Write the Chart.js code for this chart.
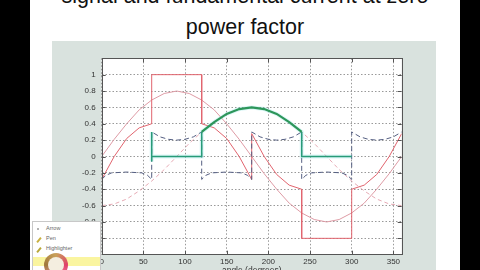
<!DOCTYPE html>
<html>
<head>
<meta charset="utf-8">
<script src="https://cdn.jsdelivr.net/npm/chart.js@4.4.1/dist/chart.umd.min.js"></script>
<style>
  html, body { margin: 0; padding: 0; width: 480px; height: 270px; overflow: hidden; background: #000; }
  #slide { position: absolute; left: 30px; top: 0; width: 430px; height: 270px; background: #fff; overflow: hidden; }
  #title { position: absolute; left: 0; top: -19px; width: 430px; text-align: center;
           font: 21.5px/31px "Liberation Sans", Arial, sans-serif; color: #111; }
  #panel { position: absolute; left: 22px; top: 41px; width: 384px; height: 229px; background: #d9e2de; }
  #wrap { position: absolute; left: 22px; top: 41px; width: 384px; height: 240px; }
  #menu { position: absolute; z-index: 5; left: 32px; top: 221px; width: 67px; height: 52px; background: #fff;
          border: 1px solid #c8c8c8; font: 5.5px "Liberation Sans", Arial, sans-serif; color: #666; overflow: hidden; }
  #menu .item { position: absolute; left: 13px; }
  #menu .ico { position: absolute; left: 3px; width: 6px; height: 2px; transform: rotate(-50deg); }
  #menu .hl { position: absolute; left: 0; top: 35px; width: 67px; height: 9px; background: #faf5a0; }
  #menu .ring { position: absolute; left: 11px; top: 31px; width: 24px; height: 24px; border-radius: 50%;
                background: conic-gradient(#c9a15a, #e0406a, #f29ab0, #a0783c, #c9a15a); }
  #menu .ring::after { content: ""; position: absolute; left: 4px; top: 4px; width: 16px; height: 16px;
                border-radius: 50%; background: #f4eee0; }
</style>
</head>
<body>
<div id="slide">
  <div id="title">signal and fundamental current at zero<br>power factor</div>
  <div id="panel"></div>
  <div id="wrap"><canvas id="grafica" width="384" height="240"></canvas></div>
</div>
<div id="menu">
  <div class="ico" style="top:6px;left:4px;width:2px;height:2px;border-radius:1px;transform:none;background:#999"></div>
  <div class="item" style="top:3px">Arrow</div>
  <div class="ico" style="top:17px;background:#c8b040"></div>
  <div class="item" style="top:13px">Pen</div>
  <div class="ico" style="top:27px;background:#b8a838"></div>
  <div class="item" style="top:23px">Highlighter</div>
  <div class="hl"></div>
  <div class="ring"></div>
</div>

<script>
// angulo en grados
const angulos = [0, 15, 30, 45, 60, 75, 90, 105, 120, 135, 150, 165, 180,
                 195, 210, 225, 240, 255, 270, 285, 300, 315, 330, 345, 360];

// onda de tension (roja, con saltos)
const rojaAngulo = [0, 15, 30, 45, 60, 60, 120, 120, 135, 150, 165, 180,
                    180, 195, 210, 225, 240, 240, 300, 300, 315, 330, 345, 360];
const rojaValor = [-0.28, 0.0, 0.22, 0.35, 0.4, 1, 1, 0.4, 0.35, 0.22, 0.0, -0.28,
                   0.28, 0.0, -0.22, -0.35, -0.4, -1, -1, -0.4, -0.35, -0.22, 0.0, 0.28];

// seno (rosa fino)
const senoValor = [0, 0.21, 0.4, 0.57, 0.69, 0.77, 0.8, 0.77, 0.69, 0.57, 0.4, 0.21, 0,
                   -0.21, -0.4, -0.57, -0.69, -0.77, -0.8, -0.77, -0.69, -0.57, -0.4, -0.21, 0];

// corriente fundamental (rosa punteado)
const fundValor = [-0.6, -0.58, -0.52, -0.42, -0.3, -0.16, 0, 0.16, 0.3, 0.42, 0.52, 0.58, 0.6,
                   0.58, 0.52, 0.42, 0.3, 0.16, 0, -0.16, -0.3, -0.42, -0.52, -0.58, -0.6];

// rizado (azul oscuro, discontinuo)
const rizoAngulo = [0, 5, 12, 30, 48, 55, 60, 60, 70, 80, 90, 100, 110, 120,
                    120, 125, 132, 150, 168, 175, 180, 180, 190, 200, 210, 220, 230, 240,
                    240, 245, 252, 270, 288, 295, 300, 300, 310, 320, 330, 340, 350, 360];
const rizoValor = [-0.28, -0.23, -0.2, -0.19, -0.2, -0.23, -0.28, 0.3, 0.24, 0.21, 0.2, 0.21, 0.24, 0.3,
                   -0.28, -0.23, -0.2, -0.19, -0.2, -0.23, -0.28, 0.3, 0.24, 0.21, 0.2, 0.21, 0.24, 0.3,
                   -0.28, -0.23, -0.2, -0.19, -0.2, -0.23, -0.28, 0.3, 0.24, 0.21, 0.2, 0.21, 0.24, 0.3];

// senal (verde)
const senalAngulo = [60, 60, 60, 120, 120, 135, 150, 165, 180, 195, 210, 225, 240, 240, 300];
const senalValor = [0.3, -0.06, 0, 0, 0.3, 0.42, 0.52, 0.58, 0.6, 0.58, 0.52, 0.42, 0.3, 0, 0];

const ticksX = [0, 50, 100, 150, 200, 250, 300, 350];
const ticksY = [-1, -0.8, -0.6, -0.4, -0.2, 0, 0.2, 0.4, 0.6, 0.8, 1];

function puntos(xs, ys) {
    return xs.map((x, i) => ({ x: x, y: ys[i] }));
}

const marco = {
    id: 'marco',
    beforeDraw(chart) {
        const a = chart.chartArea, ctx = chart.ctx;
        ctx.save();
        ctx.fillStyle = '#fff';
        ctx.fillRect(a.left, a.top, a.right - a.left, a.bottom - a.top);
        ctx.restore();
    },
    afterDraw(chart) {
        const a = chart.chartArea, ctx = chart.ctx;
        const sx = chart.scales.x, sy = chart.scales.y;
        ctx.save();
        ctx.strokeStyle = '#555';
        ctx.lineWidth = 1;
        ctx.strokeRect(Math.round(a.left) + 0.5, Math.round(a.top) + 0.5,
                       Math.round(a.right - a.left), Math.round(a.bottom - a.top));
        ctx.beginPath();
        ticksX.forEach(v => {
            const p = Math.round(sx.getPixelForValue(v)) + 0.5;
            ctx.moveTo(p, a.bottom); ctx.lineTo(p, a.bottom - 4);
            ctx.moveTo(p, a.top); ctx.lineTo(p, a.top + 4);
        });
        ticksY.forEach(v => {
            const p = Math.round(sy.getPixelForValue(v)) + 0.5;
            ctx.moveTo(a.left, p); ctx.lineTo(a.left + 4, p);
            ctx.moveTo(a.right, p); ctx.lineTo(a.right - 4, p);
        });
        ctx.stroke();
        ctx.restore();
    }
};

const ctx = document.getElementById('grafica').getContext('2d');
const chart = new Chart(ctx, {
    type: 'scatter',
    data: {
        datasets: [{
            label: 'senal',
            data: puntos(senalAngulo, senalValor),
            showLine: true,
            borderWidth: 2,
            borderColor: 'rgb(45,150,90)',
            segment: {
                borderColor: c => (c.p0.parsed.y > 0.25 && c.p1.parsed.y > 0.25) ? 'rgb(45,150,90)' : 'rgb(40,155,120)',
                borderWidth: c => (c.p0.parsed.y > 0.25 && c.p1.parsed.y > 0.25) ? 2.2 : 1.5
            }
        }, {
            label: 'brillo',
            data: puntos(senalAngulo, senalValor),
            showLine: true,
            borderWidth: 4,
            borderColor: 'rgba(110,225,225,0.25)'
        }, {
            label: 'rizado',
            data: puntos(rizoAngulo, rizoValor),
            showLine: true,
            borderWidth: 1,
            borderDash: [5, 3],
            borderColor: 'rgb(85,95,130)'
        }, {
            label: 'tension',
            data: puntos(rojaAngulo, rojaValor),
            showLine: true,
            borderWidth: 1,
            borderColor: 'rgb(225,100,110)'
        }, {
            label: 'seno',
            data: puntos(angulos, senoValor),
            showLine: true,
            borderWidth: 1,
            borderColor: 'rgb(222,155,165)'
        }, {
            label: 'fundamental',
            data: puntos(angulos, fundValor),
            showLine: true,
            borderWidth: 1,
            borderDash: [4, 3],
            borderColor: 'rgb(230,170,180)'
        }]
    },
    options: {
        responsive: false,
        animation: false,
        events: [],
        elements: { point: { radius: 0 }, line: { tension: 0 } },
        layout: { padding: { left: 0, right: 34.3, top: 17.3, bottom: 0 } },
        plugins: { legend: { display: false }, tooltip: { enabled: false } },
        scales: {
            x: {
                type: 'linear',
                min: 0,
                max: 360,
                afterBuildTicks: s => { s.ticks = ticksX.map(v => ({ value: v })); },
                afterFit: s => { s.height = 26.3; },
                grid: { color: '#999', drawTicks: false },
                border: { display: false, dash: [1.5, 2] },
                ticks: {
                    padding: 2,
                    maxRotation: 0,
                    color: '#333',
                    font: { family: 'Liberation Sans', size: 8 },
                    callback: v => String(v)
                },
                title: {
                    display: true,
                    text: 'angle (degrees)',
                    color: '#333',
                    padding: { top: 0, bottom: 5.7 },
                    font: { family: 'Liberation Sans', size: 8.5 }
                }
            },
            y: {
                type: 'linear',
                min: -1.2,
                max: 1.2,
                afterBuildTicks: s => { s.ticks = ticksY.map(v => ({ value: v })); },
                afterFit: s => { s.width = 49.7; },
                grid: { color: '#999', drawTicks: false },
                border: { display: false, dash: [1.5, 2] },
                ticks: {
                    padding: 6,
                    color: '#333',
                    font: { family: 'Liberation Sans', size: 8 },
                    callback: v => String(v)
                }
            }
        }
    },
    plugins: [marco]
});
</script>
</body>
</html>
